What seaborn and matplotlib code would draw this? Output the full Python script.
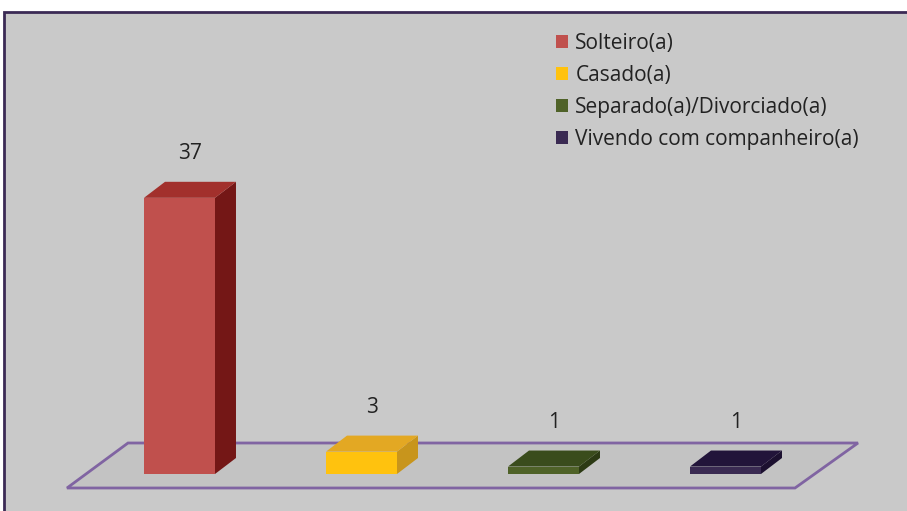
import matplotlib
matplotlib.use('Agg')
import matplotlib.pyplot as plt
import seaborn as sns
import pandas as pd
from matplotlib.patches import Polygon, Rectangle, Patch

# Dados do gráfico
categorias = ['Solteiro(a)', 'Casado(a)', 'Separado(a)/Divorciado(a)', 'Vivendo com companheiro(a)']
valores = [37, 3, 1, 1]

# Cores (frente, lateral, topo) de cada barra
cores_frente = ['#c0504d', '#ffc20e', '#4f6228', '#3a2a52']
cores_lado = ['#741716', '#c8951c', '#2c3a14', '#1c1030']
cores_topo = ['#a2302c', '#e3a823', '#3a4c1c', '#22143a']

sns.set_theme(style='white')
plt.rcParams['font.family'] = ['Open Sans', 'DejaVu Sans']

W, H = 907, 511
fig = plt.figure(figsize=(W / 100, H / 100), dpi=100)
fig.patch.set_facecolor('white')

# Moldura cinza do gráfico
fig.add_artist(Rectangle((4 / W, -0.01), 1.0, (H - 12) / H + 0.01, transform=fig.transFigure,
                         facecolor='#c9c9c9', edgecolor='#3b2a55', lw=2, zorder=0))

# Área dos dados (em pixels)
ax_l, ax_b, ax_w, ax_h = 88.5, 37, 728, 424
ax = fig.add_axes([ax_l / W, ax_b / H, ax_w / W, ax_h / H])
ax.set_facecolor('none')

df = pd.DataFrame({'Estado civil': categorias, 'Quantidade': valores})
sns.barplot(data=df, x='Estado civil', y='Quantidade', hue='Estado civil', palette=cores_frente,
            width=0.39, saturation=1, legend=False, ax=ax, zorder=3)
ax.set_xlim(-0.5, 3.5)
ax.set_ylim(0, 56.8)
ax.axis('off')

# Piso em perspectiva
x_px = lambda px: (px - ax_l) / ax_w
y_px = lambda py: (H - ax_b - py) / ax_h
piso = Polygon([(x_px(67), y_px(488)), (x_px(795), y_px(488)), (x_px(858), y_px(443)), (x_px(128), y_px(443))],
               closed=True, transform=ax.transAxes, facecolor='#c3c3c3',
               edgecolor='#8064a2', lw=2, clip_on=False, zorder=1)
ax.add_patch(piso)

# Profundidade 3D convertida de pixels para unidades de dados
dx = 21 / ax_w * 4
dy = 16 / ax_h * 56.8

barras = list(ax.patches)[:len(valores)]
for i, p in enumerate(barras):
    x0, w, h = p.get_x(), p.get_width(), p.get_height()
    p.set_edgecolor('none')
    lado = Polygon([(x0 + w, 0), (x0 + w + dx, dy), (x0 + w + dx, h + dy), (x0 + w, h)],
                   closed=True, facecolor=cores_lado[i], edgecolor='none', zorder=2, clip_on=False)
    topo = Polygon([(x0, h), (x0 + dx, h + dy), (x0 + w + dx, h + dy), (x0 + w, h)],
                   closed=True, facecolor=cores_topo[i], edgecolor='none', zorder=4, clip_on=False)
    ax.add_patch(lado)
    ax.add_patch(topo)
    ax.annotate(str(valores[i]), (x0 + w / 2 + dx / 2, h + dy), xytext=(0, 28),
                textcoords='offset pixels', ha='center', va='center', fontsize=15, color='#222222')

# Legenda
handles = [Patch(facecolor=c, edgecolor='none') for c in cores_frente]
fig.legend(handles, categorias, loc='upper left', bbox_to_anchor=(556 / W, 1 - 33 / H),
           frameon=False, fontsize=15, labelspacing=0.52, handlelength=0.58, handleheight=0.58,
           handletextpad=0.35, borderpad=0, borderaxespad=0, labelcolor='#222222')

fig.savefig('out.png', dpi=100)
